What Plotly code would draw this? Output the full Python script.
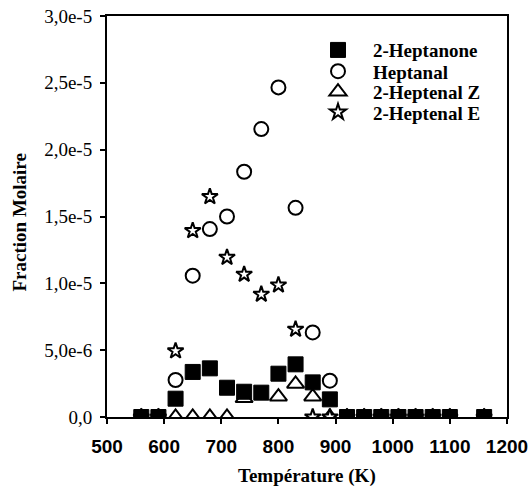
import plotly.graph_objects as go

# Temperatures (K)
temps_ketone = [560, 590, 620, 650, 680, 710, 740, 770, 800, 830, 860, 890,
                920, 950, 980, 1010, 1040, 1070, 1100, 1160]
heptanone = [0, 0, 1.37e-6, 3.37e-6, 3.64e-6, 2.19e-6, 1.89e-6, 1.82e-6, 3.24e-6, 3.94e-6, 2.59e-6, 1.32e-6,
             0, 0, 0, 0, 0, 0, 0, 0]

temps_other = [560, 590, 620, 650, 680, 710, 740, 770, 800, 830, 860, 890,
               920, 950, 980, 1010, 1040, 1070, 1100, 1160]
heptanal = [0, 0, 2.77e-6, 10.57e-6, 14.06e-6, 15.0e-6, 18.35e-6, 21.54e-6, 24.66e-6, 15.65e-6, 6.33e-6, 2.72e-6,
            0, 0, 0, 0, 0, 0, 0, 0]
heptenal_z = [0, 0, 0, 0, 0, 0, 1.4e-6, None, 1.52e-6, 2.47e-6, 1.52e-6, 0,
              0, 0, 0, 0, 0, 0, 0, 0]
heptenal_e = [0, 0, 4.94e-6, 13.94e-6, 16.48e-6, 11.94e-6, 10.67e-6, 9.18e-6, 9.87e-6, 6.56e-6, 0, 0,
              0, 0, 0, 0, 0, 0, 0, 0]

y_tickvals = [0, 5e-6, 1e-5, 1.5e-5, 2e-5, 2.5e-5, 3e-5]
y_ticktext = ["0,0", "5,0e-6", "1,0e-5", "1,5e-5", "2,0e-5", "2,5e-5", "3,0e-5"]
x_tickvals = [500, 600, 700, 800, 900, 1000, 1100, 1200]

SERIF = "Liberation Serif"
SANS = "Liberation Sans"

fig = go.Figure()

open_marker = dict(color="white", line=dict(color="black", width=2))

fig.add_trace(go.Scatter(
    x=temps_other, y=heptanal, mode="markers", name="Heptanal", legend="legend2",
    marker=dict(symbol="circle", size=14, **open_marker)))
fig.add_trace(go.Scatter(
    x=temps_other, y=heptenal_z, mode="markers", name="2-Heptenal Z", legend="legend3",
    marker=dict(symbol="triangle-up", size=15, **open_marker)))
fig.add_trace(go.Scatter(
    x=temps_other, y=heptenal_e, mode="markers", name="2-Heptenal E", legend="legend4",
    marker=dict(symbol="star", size=12, **open_marker)))
fig.add_trace(go.Scatter(
    x=temps_ketone, y=heptanone, mode="markers", name="2-Heptanone", legend="legend",
    marker=dict(symbol="square", size=15, color="black", line=dict(color="black", width=1))))


def legend_style(yc):
    return dict(
        x=0.49, y=yc, xanchor="left", yanchor="middle",
        font=dict(family=SERIF, size=19, color="black", weight="bold"),
        bgcolor="rgba(0,0,0,0)", itemwidth=60, borderwidth=0,
    )


fig.update_layout(
    width=531, height=492,
    margin=dict(l=107, r=24, t=16, b=75),
    paper_bgcolor="white", plot_bgcolor="white",
    showlegend=True,
    legend=legend_style(0.915),
    legend2=legend_style(0.862),
    legend3=legend_style(0.811),
    legend4=legend_style(0.760),
    xaxis=dict(
        range=[500, 1200], tickvals=x_tickvals, automargin=False,
        showgrid=False, zeroline=False,
        showline=True, linecolor="black", linewidth=2, mirror=True,
        ticks="outside", ticklen=5, tickwidth=2, tickcolor="black",
        tickfont=dict(family=SANS, size=19, color="black", weight="bold"),
        ticklabelstandoff=6,
    ),
    yaxis=dict(
        range=[0, 3e-5], tickvals=y_tickvals, ticktext=y_ticktext, automargin=False,
        showgrid=False, zeroline=False,
        showline=True, linecolor="black", linewidth=2, mirror=True,
        ticks="outside", ticklen=5, tickwidth=2, tickcolor="black",
        tickfont=dict(family=SERIF, size=19, color="black"),
        ticklabelstandoff=4,
    ),
    annotations=[
        dict(text="<b>Température (K)</b>", xref="paper", yref="paper", x=0.5, y=0,
             xanchor="center", yanchor="middle", yshift=-59, showarrow=False,
             font=dict(family=SERIF, size=19, color="black")),
        dict(text="<b>Fraction Molaire</b>", xref="paper", yref="paper", x=0, y=0.485,
             xanchor="center", yanchor="middle", xshift=-87, textangle=-90, showarrow=False,
             font=dict(family=SERIF, size=19, color="black")),
    ],
)

fig.write_html(
    "out.html",
    config={"displayModeBar": False},
    post_script="document.body.style.margin='0px';document.body.style.overflow='hidden';",
)
